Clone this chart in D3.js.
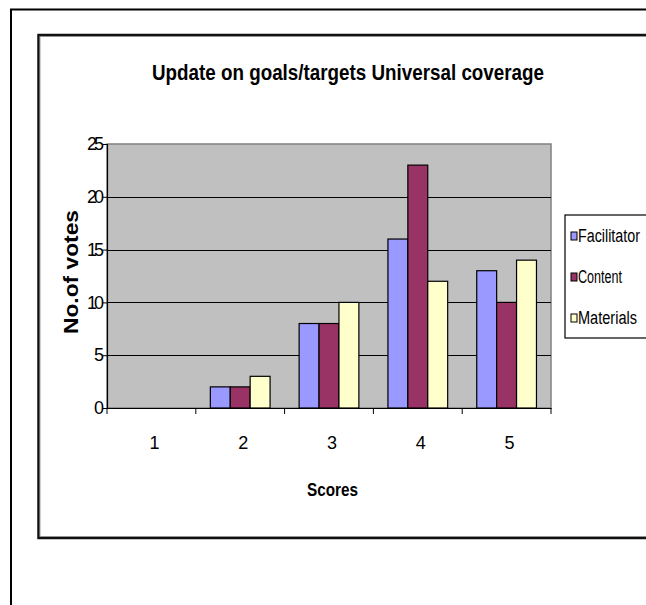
<!DOCTYPE html>
<html>
<head>
<meta charset="utf-8">
<script src="https://cdn.jsdelivr.net/npm/d3@7"></script>
<style>
  html, body { margin: 0; padding: 0; background: #fff; }
  svg { display: block; font-family: "Liberation Sans", Arial, sans-serif; }
</style>
</head>
<body>
<svg id="chart" width="646" height="605"></svg>
<script>
// Votes per score, one array per rated aspect
const scores = ["1", "2", "3", "4", "5"];
const seriesNames = ["Facilitator", "Content", "Materials"];
const facilitator = [0, 2, 8, 16, 13];
const content = [0, 2, 8, 23, 10];
const materials = [0, 3, 10, 12, 14];
const yTicks = [0, 5, 10, 15, 20, 25];
const colors = ["#9999FF", "#993366", "#FFFFCC"];

const seriesValues = [facilitator, content, materials];
const rows = scores.map((s, i) => ({
  score: s,
  values: seriesNames.map((n, k) => ({ name: n, value: seriesValues[k][i] }))
}));

const svg = d3.select("#chart");

// outer frame and chart-area frame
svg.append("rect").attr("x", 11).attr("y", 9.5).attr("width", 700).attr("height", 700)
  .attr("fill", "none").attr("stroke", "#000").attr("stroke-width", 2);
svg.append("rect").attr("x", 38.5).attr("y", 35).attr("width", 700).attr("height", 503)
  .attr("fill", "#fff").attr("stroke", "#111").attr("stroke-width", 2.5);
svg.append("rect").attr("x", 40).attr("y", 36.5).attr("width", 700).attr("height", 500)
  .attr("fill", "none").attr("stroke", "#888").attr("stroke-width", 0.8);

const plot = { left: 107, right: 551, top: 144, bottom: 408 };

const x = d3.scaleBand().domain(scores).range([plot.left, plot.right]).padding(0);
const xInner = d3.scaleBand().domain(seriesNames).range([0, x.bandwidth()])
  .paddingInner(0).paddingOuter(0.73);
const y = d3.scaleLinear().domain([0, 25]).range([plot.bottom, plot.top]);
const color = d3.scaleOrdinal().domain(seriesNames).range(colors);

// plot background
svg.append("rect")
  .attr("x", plot.left).attr("y", plot.top)
  .attr("width", plot.right - plot.left).attr("height", plot.bottom - plot.top)
  .attr("fill", "#C0C0C0").attr("stroke", "#808080").attr("stroke-width", 1.5);

// horizontal gridlines
svg.append("g").selectAll("line")
  .data(yTicks.filter(t => t > 0 && t < 25))
  .join("line")
  .attr("x1", plot.left).attr("x2", plot.right)
  .attr("y1", d => Math.round(y(d)) + 0.5).attr("y2", d => Math.round(y(d)) + 0.5)
  .attr("stroke", "#000").attr("stroke-width", 1);

// bars
svg.append("g").selectAll("g")
  .data(rows)
  .join("g")
  .attr("transform", d => `translate(${x(d.score)},0)`)
  .selectAll("rect")
  .data(d => d.values)
  .join("rect")
  .attr("x", d => xInner(d.name))
  .attr("y", d => y(d.value))
  .attr("width", xInner.bandwidth())
  .attr("height", d => y(0) - y(d.value))
  .attr("fill", d => color(d.name))
  .attr("stroke", "#000")
  .attr("stroke-width", d => d.value > 0 ? 1.2 : 0);

// y axis
const yAxis = d3.axisLeft(y).tickValues(yTicks).tickSize(4).tickPadding(2);
const gy = svg.append("g").attr("transform", `translate(${plot.left},0)`).call(yAxis);
gy.select(".domain").attr("stroke", "#000").attr("stroke-width", 1.2);
gy.selectAll(".tick line").attr("stroke", "#000");
gy.selectAll(".tick text")
  .attr("font-family", "'Liberation Sans', Arial, sans-serif")
  .attr("font-size", 18).attr("fill", "#000")
  .attr("letter-spacing", "-3px");

// x axis
const xAxis = d3.axisBottom(x).tickSize(0).tickPadding(0).tickFormat(() => "");
const gx = svg.append("g").attr("transform", `translate(0,${plot.bottom})`).call(xAxis);
gx.select(".domain").attr("stroke", "#000").attr("stroke-width", 1.2);
// category separator ticks
gx.append("g").selectAll("line")
  .data(scores.concat(["end"]))
  .join("line")
  .attr("x1", (d, i) => plot.left + i * x.step())
  .attr("x2", (d, i) => plot.left + i * x.step())
  .attr("y1", 0).attr("y2", 6)
  .attr("stroke", "#000");
svg.append("g").selectAll("text")
  .data(scores)
  .join("text")
  .attr("x", d => x(d) + x.bandwidth() / 2 + 3)
  .attr("y", 449)
  .attr("text-anchor", "middle")
  .attr("font-size", 18)
  .text(d => d);

// title
svg.append("text")
  .attr("x", 152).attr("y", 80)
  .attr("font-size", 22).attr("font-weight", "bold")
  .attr("textLength", 392).attr("lengthAdjust", "spacingAndGlyphs")
  .text("Update on goals/targets Universal coverage");

// axis titles
svg.append("text")
  .attr("transform", "translate(78,272) rotate(-90)")
  .attr("text-anchor", "middle")
  .attr("font-size", 21).attr("font-weight", "bold")
  .attr("textLength", 124).attr("lengthAdjust", "spacingAndGlyphs")
  .text("No.of votes");

svg.append("text")
  .attr("x", 307).attr("y", 496)
  .attr("font-size", 18).attr("font-weight", "bold")
  .attr("textLength", 51).attr("lengthAdjust", "spacingAndGlyphs")
  .text("Scores");

// legend
const legend = svg.append("g");
legend.append("rect")
  .attr("x", 565).attr("y", 215).attr("width", 120).attr("height", 123)
  .attr("fill", "#fff").attr("stroke", "#000").attr("stroke-width", 1.2);
const items = legend.selectAll("g.item")
  .data(seriesNames)
  .join("g")
  .attr("class", "item")
  .attr("transform", (d, i) => `translate(571,${236 + i * 41})`);
items.append("rect")
  .attr("x", 0).attr("y", -4).attr("width", 6).attr("height", 8)
  .attr("fill", d => color(d)).attr("stroke", "#000").attr("stroke-width", 1);
items.append("text")
  .attr("x", 7).attr("y", 6)
  .attr("font-size", 18)
  .attr("textLength", d => ({ Facilitator: 62, Content: 44, Materials: 59 })[d])
  .attr("lengthAdjust", "spacingAndGlyphs")
  .text(d => d);
</script>
</body>
</html>
